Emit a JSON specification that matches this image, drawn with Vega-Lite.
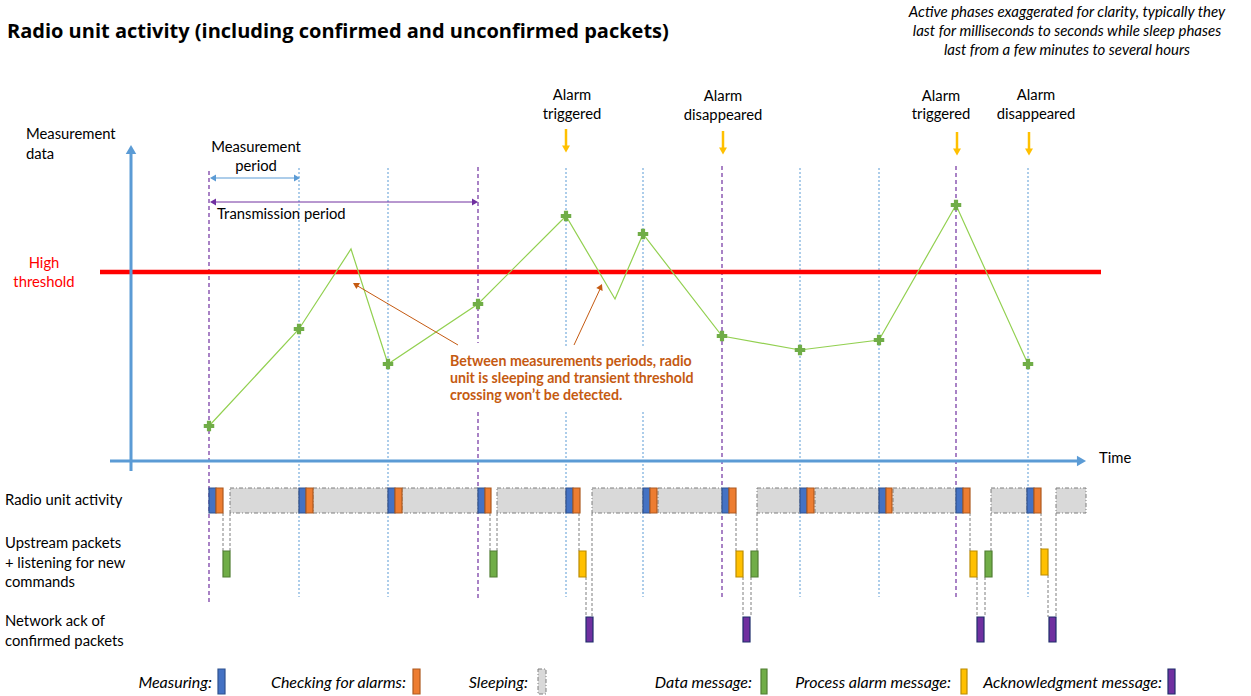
{
  "$schema": "https://vega.github.io/schema/vega-lite/v6.json",
  "width": 1251,
  "height": 696,
  "padding": 0,
  "autosize": {"type": "fit", "contains": "padding"},
  "background": "white",
  "config": {"view": {"stroke": null}, "font": "Lato"},
  "datasets": {
    "segments": [
      {"kind": "vpurple", "x": 209, "y": 171, "x2": 209, "y2": 602},
      {"kind": "vblue", "x": 299, "y": 168, "x2": 299, "y2": 597},
      {"kind": "vblue", "x": 388, "y": 168, "x2": 388, "y2": 597},
      {"kind": "vpurple", "x": 478, "y": 167, "x2": 478, "y2": 343},
      {"kind": "vpurple", "x": 478, "y": 412, "x2": 478, "y2": 600},
      {"kind": "vblue", "x": 566, "y": 168, "x2": 566, "y2": 346},
      {"kind": "vblue", "x": 566, "y": 412, "x2": 566, "y2": 597},
      {"kind": "vblue", "x": 643, "y": 168, "x2": 643, "y2": 346},
      {"kind": "vblue", "x": 643, "y": 412, "x2": 643, "y2": 597},
      {"kind": "vpurple", "x": 722, "y": 166, "x2": 722, "y2": 600},
      {"kind": "vblue", "x": 800, "y": 168, "x2": 800, "y2": 597},
      {"kind": "vblue", "x": 879, "y": 168, "x2": 879, "y2": 597},
      {"kind": "vpurple", "x": 956, "y": 166, "x2": 956, "y2": 598},
      {"kind": "vblue", "x": 1028, "y": 168, "x2": 1028, "y2": 597},
      {"kind": "threshold", "x": 100, "y": 272, "x2": 1101, "y2": 272},
      {"kind": "axis", "x": 131, "y": 152, "x2": 131, "y2": 471},
      {"kind": "axis", "x": 110, "y": 461, "x2": 1080, "y2": 461},
      {"kind": "mperiod", "x": 212, "y": 178, "x2": 298, "y2": 178},
      {"kind": "tperiod", "x": 212, "y": 202, "x2": 476, "y2": 202},
      {"kind": "alarm", "x": 566, "y": 129, "x2": 566, "y2": 148},
      {"kind": "alarm", "x": 723, "y": 131, "x2": 723, "y2": 150},
      {"kind": "alarm", "x": 957, "y": 132, "x2": 957, "y2": 151},
      {"kind": "alarm", "x": 1029, "y": 132, "x2": 1029, "y2": 151},
      {"kind": "annot", "x": 458, "y": 345, "x2": 356, "y2": 285},
      {"kind": "annot", "x": 574, "y": 345, "x2": 601, "y2": 287},
      {"kind": "connector", "x": 223, "y": 513, "x2": 223, "y2": 551},
      {"kind": "connector", "x": 230, "y": 513, "x2": 230, "y2": 551},
      {"kind": "connector", "x": 490, "y": 513, "x2": 490, "y2": 551},
      {"kind": "connector", "x": 497, "y": 513, "x2": 497, "y2": 551},
      {"kind": "connector", "x": 579, "y": 513, "x2": 579, "y2": 551},
      {"kind": "connector", "x": 592, "y": 513, "x2": 592, "y2": 617},
      {"kind": "connector", "x": 586, "y": 577, "x2": 586, "y2": 617},
      {"kind": "connector", "x": 736, "y": 513, "x2": 736, "y2": 551},
      {"kind": "connector", "x": 757, "y": 513, "x2": 757, "y2": 551},
      {"kind": "connector", "x": 743, "y": 577, "x2": 743, "y2": 617},
      {"kind": "connector", "x": 751, "y": 577, "x2": 751, "y2": 617},
      {"kind": "connector", "x": 970, "y": 513, "x2": 970, "y2": 551},
      {"kind": "connector", "x": 991, "y": 513, "x2": 991, "y2": 551},
      {"kind": "connector", "x": 977, "y": 577, "x2": 977, "y2": 617},
      {"kind": "connector", "x": 985, "y": 577, "x2": 985, "y2": 617},
      {"kind": "connector", "x": 1041, "y": 513, "x2": 1041, "y2": 549},
      {"kind": "connector", "x": 1056, "y": 513, "x2": 1056, "y2": 617},
      {"kind": "connector", "x": 1048, "y": 575, "x2": 1048, "y2": 617}
    ],
    "series": [
      {"x": 209, "y": 426, "measured": true},
      {"x": 299, "y": 329, "measured": true},
      {"x": 351, "y": 249, "measured": false},
      {"x": 388, "y": 364, "measured": true},
      {"x": 478, "y": 304, "measured": true},
      {"x": 566, "y": 216, "measured": true},
      {"x": 615, "y": 299, "measured": false},
      {"x": 643, "y": 234, "measured": true},
      {"x": 722, "y": 336, "measured": true},
      {"x": 800, "y": 350, "measured": true},
      {"x": 879, "y": 340, "measured": true},
      {"x": 956, "y": 205, "measured": true},
      {"x": 1028, "y": 364, "measured": true}
    ],
    "bars": [
      {"type": "Sleeping", "x": 230, "x2": 299, "y": 488, "y2": 513},
      {"type": "Sleeping", "x": 313, "x2": 388, "y": 488, "y2": 513},
      {"type": "Sleeping", "x": 402, "x2": 478, "y": 488, "y2": 513},
      {"type": "Sleeping", "x": 497, "x2": 566, "y": 488, "y2": 513},
      {"type": "Sleeping", "x": 592, "x2": 643, "y": 488, "y2": 513},
      {"type": "Sleeping", "x": 658, "x2": 722, "y": 488, "y2": 513},
      {"type": "Sleeping", "x": 757, "x2": 800, "y": 488, "y2": 513},
      {"type": "Sleeping", "x": 815, "x2": 879, "y": 488, "y2": 513},
      {"type": "Sleeping", "x": 893, "x2": 956, "y": 488, "y2": 513},
      {"type": "Sleeping", "x": 991, "x2": 1027, "y": 488, "y2": 513},
      {"type": "Sleeping", "x": 1056, "x2": 1086, "y": 488, "y2": 513},
      {"type": "Sleeping", "x": 538, "x2": 546, "y": 669, "y2": 694},
      {"type": "Measuring", "x": 209, "x2": 216, "y": 488, "y2": 513},
      {"type": "Checking", "x": 216, "x2": 223, "y": 488, "y2": 513},
      {"type": "Measuring", "x": 299, "x2": 306, "y": 488, "y2": 513},
      {"type": "Checking", "x": 306, "x2": 313, "y": 488, "y2": 513},
      {"type": "Measuring", "x": 388, "x2": 395, "y": 488, "y2": 513},
      {"type": "Checking", "x": 395, "x2": 402, "y": 488, "y2": 513},
      {"type": "Measuring", "x": 478, "x2": 485, "y": 488, "y2": 513},
      {"type": "Checking", "x": 485, "x2": 491, "y": 488, "y2": 513},
      {"type": "Measuring", "x": 566, "x2": 573, "y": 488, "y2": 513},
      {"type": "Checking", "x": 573, "x2": 580, "y": 488, "y2": 513},
      {"type": "Measuring", "x": 643, "x2": 650, "y": 488, "y2": 513},
      {"type": "Checking", "x": 650, "x2": 657, "y": 488, "y2": 513},
      {"type": "Measuring", "x": 722, "x2": 729, "y": 488, "y2": 513},
      {"type": "Checking", "x": 729, "x2": 736, "y": 488, "y2": 513},
      {"type": "Measuring", "x": 800, "x2": 807, "y": 488, "y2": 513},
      {"type": "Checking", "x": 807, "x2": 814, "y": 488, "y2": 513},
      {"type": "Measuring", "x": 879, "x2": 886, "y": 488, "y2": 513},
      {"type": "Checking", "x": 886, "x2": 892, "y": 488, "y2": 513},
      {"type": "Measuring", "x": 956, "x2": 963, "y": 488, "y2": 513},
      {"type": "Checking", "x": 963, "x2": 970, "y": 488, "y2": 513},
      {"type": "Measuring", "x": 1027, "x2": 1034, "y": 488, "y2": 513},
      {"type": "Checking", "x": 1034, "x2": 1041, "y": 488, "y2": 513},
      {"type": "Data", "x": 223, "x2": 230, "y": 551, "y2": 577},
      {"type": "Data", "x": 490, "x2": 497, "y": 551, "y2": 577},
      {"type": "Alarm", "x": 579, "x2": 586, "y": 551, "y2": 577},
      {"type": "Alarm", "x": 736, "x2": 743, "y": 551, "y2": 577},
      {"type": "Data", "x": 751, "x2": 758, "y": 551, "y2": 577},
      {"type": "Alarm", "x": 970, "x2": 977, "y": 551, "y2": 577},
      {"type": "Data", "x": 985, "x2": 992, "y": 551, "y2": 577},
      {"type": "Alarm", "x": 1041, "x2": 1048, "y": 549, "y2": 575},
      {"type": "Ack", "x": 586, "x2": 593, "y": 617, "y2": 642},
      {"type": "Ack", "x": 743, "x2": 750, "y": 617, "y2": 642},
      {"type": "Ack", "x": 977, "x2": 984, "y": 617, "y2": 642},
      {"type": "Ack", "x": 1049, "x2": 1056, "y": 617, "y2": 642},
      {"type": "Measuring", "x": 218, "x2": 225, "y": 669, "y2": 694},
      {"type": "Checking", "x": 413, "x2": 420, "y": 669, "y2": 694},
      {"type": "Data", "x": 761, "x2": 767, "y": 669, "y2": 694},
      {"type": "Alarm", "x": 961, "x2": 967, "y": 669, "y2": 694},
      {"type": "Ack", "x": 1168, "x2": 1175, "y": 669, "y2": 694}
    ],
    "heads": [
      {"head": "axisUp", "x": 131, "y": 149.5},
      {"head": "axisRight", "x": 1081.5, "y": 461},
      {"head": "mLeft", "x": 213, "y": 178},
      {"head": "mRight", "x": 297, "y": 178},
      {"head": "tLeft", "x": 213, "y": 202},
      {"head": "tRight", "x": 475, "y": 202},
      {"head": "alarm", "x": 566, "y": 149},
      {"head": "alarm", "x": 723, "y": 151},
      {"head": "alarm", "x": 957, "y": 152},
      {"head": "alarm", "x": 1029, "y": 152},
      {"head": "annot1", "x": 355.6, "y": 284.5},
      {"head": "annot2", "x": 600.7, "y": 286.7}
    ],
    "texts": [
      {"role": "title", "x": 7, "y": 32, "text": "Radio unit activity (including confirmed and unconfirmed packets)"},
      {"role": "note", "x": 1067, "y": 12, "text": "Active phases exaggerated for clarity, typically they"},
      {"role": "note", "x": 1067, "y": 31, "text": "last for milliseconds to seconds while sleep phases"},
      {"role": "note", "x": 1067, "y": 50, "text": "last from a few minutes to several hours"},
      {"role": "left", "x": 26, "y": 135, "text": "Measurement"},
      {"role": "left", "x": 26, "y": 155, "text": "data"},
      {"role": "left", "x": 217, "y": 215, "text": "Transmission period"},
      {"role": "left", "x": 1099, "y": 459, "text": "Time"},
      {"role": "left", "x": 5, "y": 501, "text": "Radio unit activity"},
      {"role": "left", "x": 5, "y": 544, "text": "Upstream packets"},
      {"role": "left", "x": 5, "y": 564, "text": "+ listening for new"},
      {"role": "left", "x": 5, "y": 583, "text": "commands"},
      {"role": "left", "x": 5, "y": 622, "text": "Network ack of"},
      {"role": "left", "x": 5, "y": 642, "text": "confirmed packets"},
      {"role": "center", "x": 256, "y": 148, "text": "Measurement"},
      {"role": "center", "x": 256, "y": 167, "text": "period"},
      {"role": "center", "x": 572, "y": 96, "text": "Alarm"},
      {"role": "center", "x": 572, "y": 115, "text": "triggered"},
      {"role": "center", "x": 723, "y": 97, "text": "Alarm"},
      {"role": "center", "x": 723, "y": 116, "text": "disappeared"},
      {"role": "center", "x": 941, "y": 97, "text": "Alarm"},
      {"role": "center", "x": 941, "y": 115, "text": "triggered"},
      {"role": "center", "x": 1036, "y": 96, "text": "Alarm"},
      {"role": "center", "x": 1036, "y": 115, "text": "disappeared"},
      {"role": "red", "x": 44, "y": 264, "text": "High"},
      {"role": "red", "x": 44, "y": 283, "text": "threshold"},
      {"role": "orange", "x": 450, "y": 362, "text": "Between measurements periods, radio"},
      {"role": "orange", "x": 450, "y": 379, "text": "unit is sleeping and transient threshold"},
      {"role": "orange", "x": 450, "y": 396, "text": "crossing won’t be detected."},
      {"role": "legend", "x": 212, "y": 683, "text": "Measuring:"},
      {"role": "legend", "x": 406, "y": 683, "text": "Checking for alarms:"},
      {"role": "legend", "x": 528, "y": 683, "text": "Sleeping:"},
      {"role": "legend", "x": 752, "y": 683, "text": "Data message:"},
      {"role": "legend", "x": 951, "y": 683, "text": "Process alarm message:"},
      {"role": "legend", "x": 1162, "y": 683, "text": "Acknowledgment message:"}
    ]
  },
  "encoding": {
    "x": {"field": "x", "type": "quantitative", "scale": {"domain": [0, 1251], "nice": false, "zero": false}, "axis": null},
    "y": {"field": "y", "type": "quantitative", "scale": {"domain": [0, 696], "reverse": true, "nice": false, "zero": false}, "axis": null}
  },
  "layer": [
    {"data": {"name": "segments"}, "transform": [{"filter": "datum.kind === 'vblue'"}],
     "mark": {"type": "rule", "color": "#5B9BD5", "strokeWidth": 1, "strokeDash": [2, 2]},
     "encoding": {"x2": {"field": "x2"}, "y2": {"field": "y2"}}},
    {"data": {"name": "segments"}, "transform": [{"filter": "datum.kind === 'vpurple'"}],
     "mark": {"type": "rule", "color": "#7030A0", "strokeWidth": 1.2, "strokeDash": [4, 3]},
     "encoding": {"x2": {"field": "x2"}, "y2": {"field": "y2"}}},
    {"data": {"name": "segments"}, "transform": [{"filter": "datum.kind === 'threshold'"}],
     "mark": {"type": "rule", "color": "#FF0000", "strokeWidth": 4.5},
     "encoding": {"x2": {"field": "x2"}, "y2": {"field": "y2"}}},
    {"data": {"name": "segments"}, "transform": [{"filter": "datum.kind === 'axis'"}],
     "mark": {"type": "rule", "color": "#5B9BD5", "strokeWidth": 3},
     "encoding": {"x2": {"field": "x2"}, "y2": {"field": "y2"}}},
    {"data": {"name": "segments"}, "transform": [{"filter": "datum.kind === 'mperiod'"}],
     "mark": {"type": "rule", "color": "#5B9BD5", "strokeWidth": 1},
     "encoding": {"x2": {"field": "x2"}, "y2": {"field": "y2"}}},
    {"data": {"name": "segments"}, "transform": [{"filter": "datum.kind === 'tperiod'"}],
     "mark": {"type": "rule", "color": "#7030A0", "strokeWidth": 1},
     "encoding": {"x2": {"field": "x2"}, "y2": {"field": "y2"}}},
    {"data": {"name": "segments"}, "transform": [{"filter": "datum.kind === 'alarm'"}],
     "mark": {"type": "rule", "color": "#FFC000", "strokeWidth": 2.5},
     "encoding": {"x2": {"field": "x2"}, "y2": {"field": "y2"}}},
    {"data": {"name": "series"},
     "mark": {"type": "line", "color": "#92D050", "strokeWidth": 1.2},
     "encoding": {"order": {"field": "x", "type": "quantitative"}}},
    {"data": {"name": "series"}, "transform": [{"filter": "datum.measured"}],
     "mark": {"type": "point", "shape": "cross", "filled": true, "color": "#70AD47", "size": 110, "opacity": 1},
     "encoding": {}},
    {"data": {"name": "segments"}, "transform": [{"filter": "datum.kind === 'annot'"}],
     "mark": {"type": "rule", "color": "#C55A11", "strokeWidth": 1},
     "encoding": {"x2": {"field": "x2"}, "y2": {"field": "y2"}}},
    {"data": {"name": "segments"}, "transform": [{"filter": "datum.kind === 'connector'"}],
     "mark": {"type": "rule", "color": "#7F7F7F", "strokeWidth": 1, "strokeDash": [3, 2]},
     "encoding": {"x2": {"field": "x2"}, "y2": {"field": "y2"}}},
    {"data": {"name": "bars"}, "transform": [{"filter": "datum.type === 'Sleeping'"}],
     "mark": {"type": "rect", "fill": "#D9D9D9", "stroke": "#7F7F7F", "strokeWidth": 1, "strokeDash": [4, 2, 1, 2]},
     "encoding": {"x2": {"field": "x2"}, "y2": {"field": "y2"}}},
    {"data": {"name": "bars"}, "transform": [{"filter": "datum.type !== 'Sleeping'"}],
     "mark": {"type": "rect", "strokeWidth": 1.2},
     "encoding": {
       "x2": {"field": "x2"}, "y2": {"field": "y2"},
       "fill": {"field": "type", "type": "nominal", "legend": null,
                "scale": {"domain": ["Measuring", "Checking", "Data", "Alarm", "Ack"], "range": ["#4472C4", "#ED7D31", "#70AD47", "#FFC000", "#7030A0"]}},
       "stroke": {"field": "type", "type": "nominal", "legend": null,
                "scale": {"domain": ["Measuring", "Checking", "Data", "Alarm", "Ack"], "range": ["#2F528F", "#AE5A21", "#507E32", "#BC8C00", "#1F2D6B"]}}
     }},
    {"data": {"name": "heads"}, "transform": [{"filter": "datum.head === 'axisUp'"}],
     "mark": {"type": "point", "shape": "triangle-up", "filled": true, "color": "#5B9BD5", "size": 110, "opacity": 1}, "encoding": {}},
    {"data": {"name": "heads"}, "transform": [{"filter": "datum.head === 'axisRight'"}],
     "mark": {"type": "point", "shape": "triangle-right", "filled": true, "color": "#5B9BD5", "size": 110, "opacity": 1}, "encoding": {}},
    {"data": {"name": "heads"}, "transform": [{"filter": "datum.head === 'mLeft'"}],
     "mark": {"type": "point", "shape": "triangle-left", "filled": true, "color": "#5B9BD5", "size": 49, "opacity": 1}, "encoding": {}},
    {"data": {"name": "heads"}, "transform": [{"filter": "datum.head === 'mRight'"}],
     "mark": {"type": "point", "shape": "triangle-right", "filled": true, "color": "#5B9BD5", "size": 49, "opacity": 1}, "encoding": {}},
    {"data": {"name": "heads"}, "transform": [{"filter": "datum.head === 'tLeft'"}],
     "mark": {"type": "point", "shape": "triangle-left", "filled": true, "color": "#7030A0", "size": 49, "opacity": 1}, "encoding": {}},
    {"data": {"name": "heads"}, "transform": [{"filter": "datum.head === 'tRight'"}],
     "mark": {"type": "point", "shape": "triangle-right", "filled": true, "color": "#7030A0", "size": 49, "opacity": 1}, "encoding": {}},
    {"data": {"name": "heads"}, "transform": [{"filter": "datum.head === 'alarm'"}],
     "mark": {"type": "point", "shape": "triangle-down", "filled": true, "color": "#FFC000", "size": 64, "opacity": 1}, "encoding": {}},
    {"data": {"name": "heads"}, "transform": [{"filter": "datum.head === 'annot1'"}],
     "mark": {"type": "point", "shape": "triangle-up", "filled": true, "color": "#C55A11", "size": 49, "angle": -59.5, "opacity": 1}, "encoding": {}},
    {"data": {"name": "heads"}, "transform": [{"filter": "datum.head === 'annot2'"}],
     "mark": {"type": "point", "shape": "triangle-up", "filled": true, "color": "#C55A11", "size": 49, "angle": 24.7, "opacity": 1}, "encoding": {}},
    {"data": {"name": "texts"}, "transform": [{"filter": "datum.role === 'title'"}],
     "mark": {"type": "text", "align": "left", "baseline": "middle", "fontSize": 20, "fontWeight": "bold", "font": "Open Sans", "color": "#000000"},
     "encoding": {"text": {"field": "text"}}},
    {"data": {"name": "texts"}, "transform": [{"filter": "datum.role === 'note'"}],
     "mark": {"type": "text", "align": "center", "baseline": "middle", "fontSize": 15, "fontStyle": "italic", "color": "#000000"},
     "encoding": {"text": {"field": "text"}}},
    {"data": {"name": "texts"}, "transform": [{"filter": "datum.role === 'left'"}],
     "mark": {"type": "text", "align": "left", "baseline": "middle", "fontSize": 14.8, "color": "#000000"},
     "encoding": {"text": {"field": "text"}}},
    {"data": {"name": "texts"}, "transform": [{"filter": "datum.role === 'center'"}],
     "mark": {"type": "text", "align": "center", "baseline": "middle", "fontSize": 14.8, "color": "#000000"},
     "encoding": {"text": {"field": "text"}}},
    {"data": {"name": "texts"}, "transform": [{"filter": "datum.role === 'red'"}],
     "mark": {"type": "text", "align": "center", "baseline": "middle", "fontSize": 14.8, "color": "#FF0000"},
     "encoding": {"text": {"field": "text"}}},
    {"data": {"name": "texts"}, "transform": [{"filter": "datum.role === 'orange'"}],
     "mark": {"type": "text", "align": "left", "baseline": "middle", "fontSize": 14.2, "fontWeight": "bold", "color": "#C55A11"},
     "encoding": {"text": {"field": "text"}}},
    {"data": {"name": "texts"}, "transform": [{"filter": "datum.role === 'legend'"}],
     "mark": {"type": "text", "align": "right", "baseline": "middle", "fontSize": 16, "fontStyle": "italic", "color": "#000000"},
     "encoding": {"text": {"field": "text"}}}
  ]
}
